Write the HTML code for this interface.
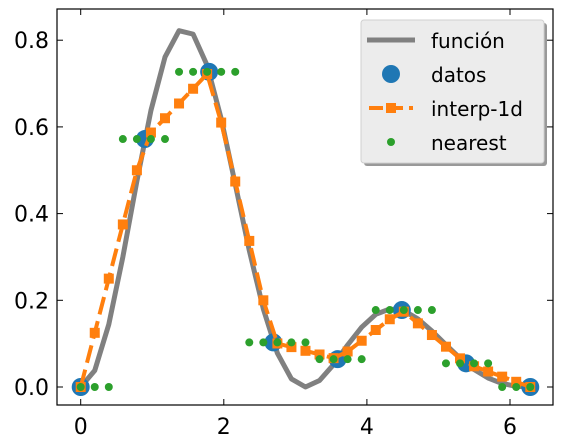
<!DOCTYPE html>
<html><head><meta charset="utf-8"><style>
body{margin:0;background:#fff;}
svg{display:block;font-family:"DejaVu Sans","Liberation Sans",sans-serif;}
</style></head><body>
<svg id="chart" width="563" height="446" viewBox="0 0 563 446" xmlns="http://www.w3.org/2000/svg"></svg>
<script>
const gridX = [0,0.19635,0.3927,0.58905,0.7854,0.98175,1.1781,1.37445,1.5708,1.76715,1.9635,2.15985,2.3562,2.55255,2.7489,2.94525,3.1416,3.33795,3.5343,3.73065,3.927,4.12335,4.3197,4.51605,4.7124,4.90875,5.1051,5.30145,5.4978,5.69415,5.8905,6.08685,6.2832];
const funcY = [0,0.038,0.1445,0.300,0.475,0.638,0.761,0.822,0.814,0.742,0.619,0.468,0.315,0.180,0.078,0.0185,0,0.015,0.0517,0.0969,0.138,0.1676,0.180,0.176,0.157,0.129,0.0973,0.0664,0.0403,0.0207,0.0081,0.0017,0];
const dataX = [0,0.8976,1.7952,2.6928,3.5904,4.488,5.3856,6.2832];
const dataY = [0,0.572,0.727,0.1028,0.0642,0.1775,0.0546,0];
const interpY = [0,0.125,0.250,0.375,0.500,0.587,0.620,0.654,0.688,0.722,0.610,0.474,0.337,0.200,0.1004,0.0920,0.0835,0.0750,0.0666,0.0819,0.1067,0.1315,0.1563,0.1737,0.1468,0.1199,0.0930,0.0661,0.0478,0.0358,0.0239,0.0120,0];
const nearestY = [0,0,0,0.572,0.572,0.572,0.572,0.727,0.727,0.727,0.727,0.727,0.1028,0.1028,0.1028,0.1028,0.1028,0.0642,0.0642,0.0642,0.0642,0.1775,0.1775,0.1775,0.1775,0.1775,0.0546,0.0546,0.0546,0.0546,0,0,0];
const xTicks = [0,2,4,6];
const yTicks = [0.0,0.2,0.4,0.6,0.8];
const yTickLabels = ["0.0","0.2","0.4","0.6","0.8"];

const NS="http://www.w3.org/2000/svg";
const svg=document.getElementById('chart');
const L=57,R=553,T=9,B=405;
const sx=v=>80.7+v*71.55;
const sy=v=>387-v*433.5;
function mk(tag,attrs,parent){const e=document.createElementNS(NS,tag);for(const k in attrs)e.setAttribute(k,attrs[k]);(parent||svg).appendChild(e);return e;}

const clip=mk('clipPath',{id:'clp'});mk('rect',{x:L,y:T,width:R-L,height:B-T},clip);
const plot=mk('g',{'clip-path':'url(#clp)'});



let fl=mk('polyline',{points:gridX.map((x,i)=>sx(x)+','+sy(funcY[i])).join(' '),fill:'none',stroke:'#808080','stroke-width':5,'stroke-linejoin':'round'},plot);



dataX.forEach((x,i)=>{const c=mk('circle',{cx:sx(x),cy:sy(dataY[i]),r:9,fill:'#1f77b4'},plot);

});

let il=mk('polyline',{points:gridX.map((x,i)=>sx(x)+','+sy(interpY[i])).join(' '),fill:'none',stroke:'#ff7f0e','stroke-width':4,'stroke-dasharray':'18,7'},plot);


gridX.forEach((x,i)=>{const s=mk('rect',{x:sx(x)-5,y:sy(interpY[i])-5,width:10,height:10,fill:'#ff7f0e'},plot);

});

gridX.forEach((x,i)=>{const c=mk('circle',{cx:sx(x),cy:sy(nearestY[i]),r:4,fill:'#2ca02c'},plot);

});

const fr=mk('rect',{x:L,y:T,width:R-L,height:B-T,fill:'none',stroke:'#000','stroke-width':1.2});



xTicks.forEach(v=>{const x=sx(v);
mk('line',{x1:x,x2:x,y1:B,y2:B-6,stroke:'#000','stroke-width':1});
mk('line',{x1:x,x2:x,y1:T,y2:T+6,stroke:'#000','stroke-width':1});
const t=mk('text',{x:x,y:434,'font-size':22,'text-anchor':'middle',fill:'#000'});t.textContent=v;

});
yTicks.forEach((v,i)=>{const y=sy(v);
mk('line',{x1:L,x2:L+6,y1:y,y2:y,stroke:'#000','stroke-width':1});
mk('line',{x1:R,x2:R-6,y1:y,y2:y,stroke:'#000','stroke-width':1});
const t=mk('text',{x:49,y:y+8,'font-size':22,'text-anchor':'end',fill:'#000'});t.textContent=yTickLabels[i];

});

const lg=mk('g',{});


mk('rect',{x:364,y:23,width:183,height:143,rx:3,fill:'#999'},lg);
mk('rect',{x:361,y:20,width:183,height:143,rx:3,fill:'#ececec',stroke:'#d0d0d0'},lg);
mk('line',{x1:367,x2:415,y1:40,y2:40,stroke:'#808080','stroke-width':5},lg);
mk('circle',{cx:391,cy:74,r:9,fill:'#1f77b4'},lg);
mk('line',{x1:369,x2:413,y1:108,y2:108,stroke:'#ff7f0e','stroke-width':4,'stroke-dasharray':'14,6'},lg);
mk('rect',{x:386,y:103,width:10,height:10,fill:'#ff7f0e'},lg);
mk('circle',{cx:391,cy:142,r:4,fill:'#2ca02c'},lg);
["función","datos","interp-1d","nearest"].forEach((s,i)=>{const t=mk('text',{x:431,y:48+i*34,'font-size':20,fill:'#000'},lg);t.textContent=s;

});
</script>
</body></html>
